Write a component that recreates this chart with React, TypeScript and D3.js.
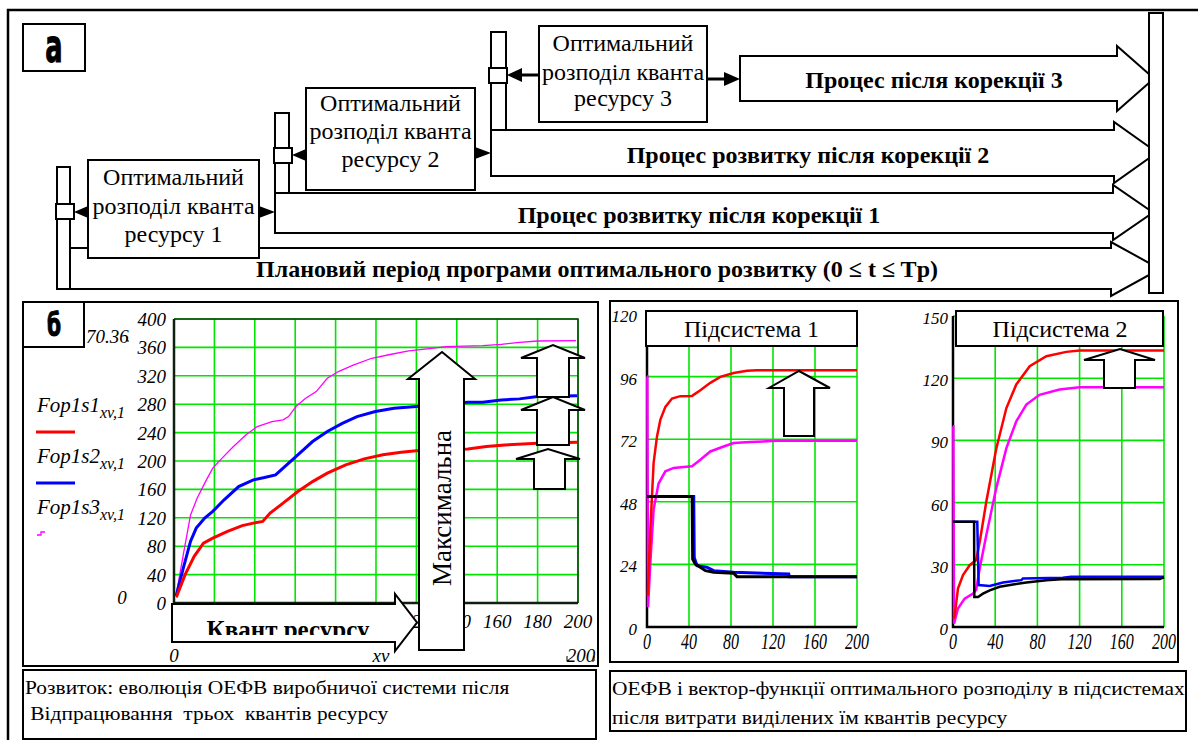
import React from 'react';
import * as d3 from 'd3';

type P = [number, number];

const SERIF = 'Liberation Serif, Times New Roman, serif';
const NARROW = 'Liberation Sans Narrow, DejaVu Sans Condensed, sans-serif';

// ---------- chart б : evolution after three resource quanta ----------
const bXTicks = [0, 20, 40, 60, 80, 100, 120, 140, 160, 180, 200];
const bYTicks = [0, 40, 80, 120, 160, 200, 240, 280, 320, 360, 400];
const legendNames = ['Fop1s1', 'Fop1s2', 'Fop1s3'];
const legendSub = 'xv,1';

const fop1s1: P[] = [[1, 9], [1.3, 9.4], [5.5, 40], [10, 65.7], [14.6, 84.4], [19.2, 91.4], [26.5, 100.8], [33.8, 109], [39.3, 112.5], [43.9, 114.9], [47.6, 126.6], [54, 140.7], [61.3, 157], [68.6, 171], [75.9, 182.9], [85, 194.6], [94.2, 203], [103.4, 208.7], [112.5, 212.4], [119.9, 214.3], [132, 216], [145.5, 217], [154.6, 220.4], [163.8, 222.7], [180, 225], [199.5, 226.5]];
const fop1s2: P[] = [[1, 9.4], [4.6, 49], [8.2, 87], [11, 105.5], [15.2, 119.6], [19.2, 129], [24.7, 145], [32, 164], [39.3, 173.5], [44.8, 176.8], [50.3, 180.5], [55.8, 194.6], [61.3, 208.7], [68.6, 227.4], [75.9, 241.5], [83.3, 253], [90.6, 262.6], [99.7, 269.6], [108.9, 274.3], [119.9, 276.7], [132, 280], [145.5, 282.8], [152.8, 282.8], [162, 286], [171, 287.5], [180, 290.7], [199.5, 292]];
const fop1s3: P[] = [[1, 10], [4.6, 68], [8.2, 124], [11.5, 148], [15.6, 171], [19.2, 190], [23.8, 204], [29.3, 220], [35.7, 237], [41.2, 248.5], [48.5, 255.6], [54, 258], [56.7, 262.6], [60.4, 276.7], [65, 288], [70.4, 297.8], [75.9, 316.5], [81.4, 326], [88.7, 335], [97.9, 344.7], [107, 350], [116.2, 355], [125.4, 357.8], [134.5, 361], [152.8, 362.5], [162, 364.4], [171, 367], [180, 369], [199, 369.6]];

// ---------- subsystem 1 ----------
const s1XTicks = [0, 40, 80, 120, 160, 200];
const s1YTicks = [0, 24, 48, 72, 96, 120];
const s1Red: P[] = [[0.8, 12], [3.2, 37.5], [6.3, 62.9], [9.5, 73], [12.7, 79.4], [17.5, 84.4], [23.8, 87.6], [31.7, 88.5], [42.9, 88.6], [50.8, 90.8], [60.3, 93.6], [69.8, 95.9], [82.5, 97.4], [95.2, 98.2], [104.8, 98.4], [200, 98.4]];
const s1Magenta: P[] = [[0, 96], [0.3, 96], [1, 7.6], [3.2, 24.8], [6.3, 45], [11, 55], [17.5, 59.7], [25.4, 61], [35, 61.3], [42.9, 61.6], [50.8, 64.1], [60.3, 67.3], [73, 69.2], [82.5, 70.5], [98.4, 70.9], [123.8, 71.4], [200, 71.4]];
const s1Blue: P[] = [[0, 50], [44.5, 50], [45, 26.7], [47.6, 23.5], [57, 22.9], [63.5, 21.6], [82.5, 21], [135, 20.3], [135.5, 19.3], [200, 19.3]];
const s1Black: P[] = [[0, 50], [43, 50], [43.5, 26], [46, 24.1], [50.8, 22.9], [55.6, 21.6], [63.5, 21], [82.5, 20.6], [85.7, 19.3], [200, 19.3]];

// ---------- subsystem 2 ----------
const s2XTicks = [0, 40, 80, 120, 160, 200];
const s2YTicks = [0, 30, 60, 90, 120, 150];
const s2Red: P[] = [[0.5, 4], [1.6, 5.6], [4.7, 18.5], [9.5, 25], [15.8, 29.8], [22, 32.3], [25.3, 41], [31.6, 60.5], [41, 86], [50.6, 105.6], [60, 117], [72.7, 125.8], [88.5, 130.6], [107.4, 132.7], [120, 133.4], [200, 133.4]];
const s2Magenta: P[] = [[0, 96.8], [0.3, 96.8], [1, 1.6], [4.7, 8.9], [11, 13.7], [19, 16.1], [22, 18], [25.3, 28.2], [31.6, 44.4], [41, 67], [50.6, 86.3], [60, 99.2], [69.5, 107.3], [82, 112], [101, 114.5], [120, 115.6], [200, 115.6]];
const s2Blue: P[] = [[0, 50.8], [23, 50.8], [24.3, 20.2], [34.8, 19.8], [47.4, 21.5], [64.8, 22.6], [66.3, 23.4], [104, 23.7], [112, 24.2], [200, 24.2]];
const s2Black: P[] = [[0, 50.8], [20, 50.8], [20.2, 14.5], [23.7, 14.5], [28.4, 16.1], [34.8, 17.7], [44.2, 19.4], [56.9, 20.5], [69.5, 21.5], [88.5, 22.6], [102.7, 23], [196, 23.2], [200, 24]];

// ---------- texts ----------
const boxLines1 = ['Оптимальний', 'розподіл кванта', 'ресурсу 1'];
const boxLines2 = ['Оптимальний', 'розподіл кванта', 'ресурсу 2'];
const boxLines3 = ['Оптимальний', 'розподіл кванта', 'ресурсу 3'];
const arrowLabels = [
  'Плановий період програми оптимального розвитку (0 ≤ t ≤  Tp)',
  'Процес розвитку після корекції 1',
  'Процес розвитку після корекції 2',
  'Процес після корекції 3',
];
const leftCaption = ['Розвиток: еволюція ОЕФВ виробничої системи після', ' Відпрацювання  трьох  квантів ресурсу'];
const rightCaption = ['ОЕФВ і вектор-функції оптимального розподілу в підсистемах', 'після витрати виділених їм квантів ресурсу'];

const GRID = '#00e600';
const serif = (size: number, extra: any = {}) => ({ fontFamily: SERIF, fontSize: size, ...extra });

function HArrow({ x0, xh, xt, t, b, ht, hb }: any) {
  const ym = (ht + hb) / 2;
  return <path d={`M${x0},${t}H${xh}V${ht}L${xt},${ym}L${xh},${hb}V${b}H${x0}Z`} fill="white" stroke="black" strokeWidth={2} />;
}
function VArrow({ bl, br, yb, yh, xl, xr, xt, yt, sw = 2 }: any) {
  return <path d={`M${bl},${yb}V${yh}H${xl}L${xt},${yt}L${xr},${yh}H${br}V${yb}Z`} fill="white" stroke="black" strokeWidth={sw} />;
}
function Tri({ tip, base, y, h = 6 }: any) {
  return <path d={`M${tip},${y}L${base},${y - h}L${base},${y + h}Z`} fill="black" />;
}
function Box({ x0, y0, x1, y1, lines, baselines }: any) {
  const cx = (x0 + x1) / 2;
  return (
    <g>
      <rect x={x0} y={y0} width={x1 - x0} height={y1 - y0} fill="white" stroke="black" strokeWidth={2} />
      {lines.map((l: string, i: number) => (
        <text key={i} x={cx} y={baselines[i]} textAnchor="middle" style={serif(24)}>{l}</text>
      ))}
    </g>
  );
}

function Grid({ x, y, xTicks, yTicks }: any) {
  const [x0, x1] = x.range();
  const [y1, y0] = y.range();
  return (
    <g>
      {xTicks.map((t: number) => <line key={'gx' + t} x1={x(t)} x2={x(t)} y1={y0} y2={y1} stroke={GRID} strokeWidth={1.6} />)}
      {yTicks.map((t: number) => <line key={'gy' + t} x1={x0} x2={x1} y1={y(t)} y2={y(t)} stroke={GRID} strokeWidth={1.6} />)}
    </g>
  );
}

export default function App() {
  const bx = d3.scaleLinear().domain([0, 200]).range([174, 578]);
  const by = d3.scaleLinear().domain([0, 400]).range([603, 319]);
  const bLine = d3.line<P>().x(d => bx(d[0])).y(d => by(d[1]));

  const s1x = d3.scaleLinear().domain([0, 200]).range([647, 857]);
  const s1y = d3.scaleLinear().domain([0, 120]).range([627, 314]);
  const s1Line = d3.line<P>().x(d => s1x(d[0])).y(d => s1y(d[1]));

  const s2x = d3.scaleLinear().domain([0, 200]).range([953, 1164]);
  const s2y = d3.scaleLinear().domain([0, 150]).range([627, 316]);
  const s2Line = d3.line<P>().x(d => s2x(d[0])).y(d => s2y(d[1]));

  const boldArrow = serif(24, { fontWeight: 'bold' });
  const tick = serif(19, { fontStyle: 'italic' });
  const tickS = serif(17, { fontStyle: 'italic' });
  const cap = { ...serif(18), whiteSpace: 'pre' };

  return (
    <svg width={1198} height={740} style={{ position: 'absolute', left: 0, top: 0, background: 'white' }} xmlns="http://www.w3.org/2000/svg">
      <defs>
        <clipPath id="cb"><rect x={174} y={317} width={405} height={288} /></clipPath>
        <clipPath id="c1"><rect x={646} y={312} width={212} height={316} /></clipPath>
        <clipPath id="c2"><rect x={952} y={314} width={213} height={314} /></clipPath>
        <clipPath id="ck"><rect x={170} y={590} width={250} height={45} /></clipPath>
      </defs>
      <rect x={0} y={0} width={1198} height={740} fill="white" />
      <path d="M8,740V10H1198" fill="none" stroke="black" strokeWidth={2.5} />

      {/* ===== part а ===== */}
      <rect x={23} y={24} width={62} height={47} fill="white" stroke="black" strokeWidth={2} />
      <text x={54} y={62} textAnchor="middle" transform="translate(54,62) scale(0.62,1) translate(-54,-62)" style={{ fontFamily: NARROW, fontWeight: 'bold', fontSize: 46 }} stroke="black" strokeWidth={1}>а</text>

      <HArrow x0={70} xh={1111} xt={1160} t={248} b={289} ht={242} hb={296} />
      <HArrow x0={275} xh={1113} xt={1153} t={193} b={233} ht={185} hb={240} />
      <HArrow x0={491} xh={1114} xt={1157} t={130} b={176} ht={122} hb={183} />
      <HArrow x0={740} xh={1117} xt={1154} t={56} b={101} ht={46} hb={111} />
      <text x={597} y={277} textAnchor="middle" style={boldArrow}>{arrowLabels[0]}</text>
      <text x={699} y={223} textAnchor="middle" style={boldArrow}>{arrowLabels[1]}</text>
      <text x={808} y={163} textAnchor="middle" style={boldArrow}>{arrowLabels[2]}</text>
      <text x={934} y={88} textAnchor="middle" style={boldArrow}>{arrowLabels[3]}</text>

      <rect x={1149} y={13} width={14} height={280} fill="white" stroke="black" strokeWidth={2} />
      <rect x={57} y={167} width={13} height={122} fill="white" stroke="black" strokeWidth={2} />
      <rect x={275} y={113} width={14} height={80} fill="white" stroke="black" strokeWidth={2} />
      <rect x={491} y={32} width={15} height={98} fill="white" stroke="black" strokeWidth={2} />

      <Box x0={88} y0={160} x1={259} y1={258} lines={boxLines1} baselines={[185, 214, 242]} />
      <Box x0={306} y0={88} x1={475} y1={190} lines={boxLines2} baselines={[111, 139, 167]} />
      <Box x0={539} y0={26} x1={707} y1={122} lines={boxLines3} baselines={[51, 80, 106]} />

      <rect x={56} y={204} width={18} height={15} fill="white" stroke="black" strokeWidth={2} />
      <rect x={274} y={148} width={18} height={15} fill="white" stroke="black" strokeWidth={2} />
      <rect x={489} y={68} width={18} height={15} fill="white" stroke="black" strokeWidth={2} />

      <Tri tip={74} base={88} y={212} />
      <Tri tip={275} base={259} y={212} />
      <Tri tip={292} base={306} y={155} />
      <Tri tip={491} base={475} y={153} />
      <line x1={520} x2={539} y1={75} y2={75} stroke="black" strokeWidth={3} />
      <Tri tip={507} base={522} y={75} h={7} />
      <line x1={707} x2={726} y1={79} y2={79} stroke="black" strokeWidth={3} />
      <Tri tip={740} base={724} y={79} h={7} />

      {/* ===== part б ===== */}
      <rect x={23} y={302} width={575} height={364} fill="white" stroke="black" strokeWidth={2} />
      <rect x={23} y={302} width={61} height={45} fill="white" stroke="black" strokeWidth={2} />
      <text x={54} y={336} textAnchor="middle" transform="translate(54,336) scale(0.7,1) translate(-54,-336)" style={{ fontFamily: NARROW, fontWeight: 'bold', fontSize: 32 }} stroke="black" strokeWidth={1}>б</text>

      <Grid x={bx} y={by} xTicks={bXTicks} yTicks={bYTicks} />
      <path d="M174,319H578V603" fill="none" stroke="#0b3d0b" strokeWidth={1.5} />
      <path d="M174,319V603H578" fill="none" stroke="#102010" strokeWidth={2.5} />
      <g clipPath="url(#cb)">
        <path d={bLine(fop1s3) || ''} fill="none" stroke="#ff00ff" strokeWidth={1.3} />
        <path d={bLine(fop1s2) || ''} fill="none" stroke="#0000ff" strokeWidth={3} />
        <path d={bLine(fop1s1) || ''} fill="none" stroke="#ff0000" strokeWidth={3} />
      </g>
      {bYTicks.map(t => (
        <text key={'by' + t} x={166} y={by(t) + 7} textAnchor="end" style={tick}>{t}</text>
      ))}
      {bXTicks.filter(t => t >= 120).map(t => (
        <text key={'bx' + t} x={bx(t)} y={628} textAnchor="middle" style={tick}>{t}</text>
      ))}
      <text x={86} y={343} style={tick}>70.36</text>
      <path d="M127,337v4h2" fill="none" stroke="black" strokeWidth={1} />
      <text x={122} y={604} textAnchor="middle" style={tick}>0</text>
      <text x={bx(0)} y={662} textAnchor="middle" style={tick}>0</text>
      <text x={381} y={662} textAnchor="middle" style={tick}>xv</text>
      <text x={581} y={662} textAnchor="middle" style={tick}>200</text>
      <path d="M567,656v5h2M594,656v5h-2" fill="none" stroke="black" strokeWidth={1} />

      {legendNames.map((n, i) => (
        <text key={n} x={37} y={[412, 463, 514][i]} style={serif(21, { fontStyle: 'italic' })}>
          {n}<tspan style={{ fontSize: 16 }} dy={6}>{legendSub}</tspan>
        </text>
      ))}
      <line x1={36} x2={75} y1={432} y2={432} stroke="#ff0000" strokeWidth={3} />
      <line x1={36} x2={75} y1={483} y2={483} stroke="#0000ff" strokeWidth={3} />
      <path d="M37,535h4v-3h4" fill="none" stroke="#ff00ff" strokeWidth={1.3} />

      <HArrow x0={172} xh={395} xt={417} t={604} b={642} ht={594} hb={651} />
      <g clipPath="url(#ck)">
        <text x={288} y={638} textAnchor="middle" style={serif(25, { fontWeight: 'bold' })}>Квант ресурсу</text>
      </g>
      <VArrow bl={419} br={464} yb={650} yh={379} xl={408} xr={475} xt={442} yt={352} />
      <text transform="translate(451,508) rotate(-90)" textAnchor="middle" style={serif(27)}>Максимальна</text>
      <VArrow bl={537} br={569} yb={397} yh={358} xl={521} xr={585} xt={553} yt={345} />
      <VArrow bl={537} br={569} yb={445} yh={410} xl={521} xr={585} xt={553} yt={397} />
      <VArrow bl={534} br={565} yb={489} yh={459} xl={516} xr={580} xt={548} yt={449} />

      {/* ===== right panel ===== */}
      <rect x={610} y={301} width={568} height={361} fill="white" stroke="black" strokeWidth={2} />

      <Grid x={s1x} y={s1y} xTicks={s1XTicks} yTicks={s1YTicks} />
      <path d="M647,314V627H857" fill="none" stroke="black" strokeWidth={2.5} />
      <g clipPath="url(#c1)">
        <path d={s1Line(s1Magenta) || ''} fill="none" stroke="#ff00ff" strokeWidth={2.5} />
        <path d={s1Line(s1Red) || ''} fill="none" stroke="#ff0000" strokeWidth={2.5} />
        <path d={s1Line(s1Blue) || ''} fill="none" stroke="#0000ff" strokeWidth={3} />
        <path d={s1Line(s1Black) || ''} fill="none" stroke="black" strokeWidth={3} />
      </g>
      {s1YTicks.map(t => (
        <text key={'s1y' + t} x={637} y={s1y(t) + 8} textAnchor="end" style={tickS}>{t}</text>
      ))}
      {s1XTicks.map(t => (
        <text key={'s1x' + t} transform={`translate(${s1x(t)},649) scale(1,1.45)`} textAnchor="middle" style={serif(16, { fontStyle: 'italic' })}>{t}</text>
      ))}
      <rect x={646} y={311} width={211} height={35} fill="white" stroke="black" strokeWidth={2} />
      <text x={751.5} y={337} textAnchor="middle" style={serif(24)}>Підсистема 1</text>
      <VArrow bl={784} br={814} yb={436} yh={388} xl={769} xr={830} xt={799} yt={371} />

      <Grid x={s2x} y={s2y} xTicks={s2XTicks} yTicks={s2YTicks} />
      <path d="M953,316V627H1164" fill="none" stroke="black" strokeWidth={2.5} />
      <g clipPath="url(#c2)">
        <path d={s2Line(s2Magenta) || ''} fill="none" stroke="#ff00ff" strokeWidth={2.5} />
        <path d={s2Line(s2Red) || ''} fill="none" stroke="#ff0000" strokeWidth={2.5} />
        <path d={s2Line(s2Blue) || ''} fill="none" stroke="#0000ff" strokeWidth={2.5} />
        <path d={s2Line(s2Black) || ''} fill="none" stroke="black" strokeWidth={2.5} />
      </g>
      {s2YTicks.map(t => (
        <text key={'s2y' + t} x={948} y={s2y(t) + 8} textAnchor="end" style={tickS}>{t}</text>
      ))}
      {s2XTicks.map(t => (
        <text key={'s2x' + t} transform={`translate(${s2x(t)},649) scale(1,1.45)`} textAnchor="middle" style={serif(16, { fontStyle: 'italic' })}>{t}</text>
      ))}
      <rect x={956} y={311} width={207} height={35} fill="white" stroke="black" strokeWidth={2} />
      <text x={1060} y={337} textAnchor="middle" style={serif(24)}>Підсистема 2</text>
      <VArrow bl={1104} br={1135} yb={388} yh={360} xl={1084} xr={1155} xt={1120} yt={349} />

      <rect x={23} y={670} width={573} height={69} fill="white" stroke="black" strokeWidth={2} />
      <text transform="translate(25,694) scale(1.19,1)" style={cap}>{leftCaption[0]}</text>
      <text transform="translate(25,720) scale(1.19,1)" style={cap}>{leftCaption[1]}</text>
      <rect x={610} y={671} width={576} height={60} fill="white" stroke="black" strokeWidth={2} />
      <text transform="translate(612,695) scale(1.19,1)" style={cap}>{rightCaption[0]}</text>
      <text transform="translate(612,724) scale(1.19,1)" style={cap}>{rightCaption[1]}</text>
    </svg>
  );
}
